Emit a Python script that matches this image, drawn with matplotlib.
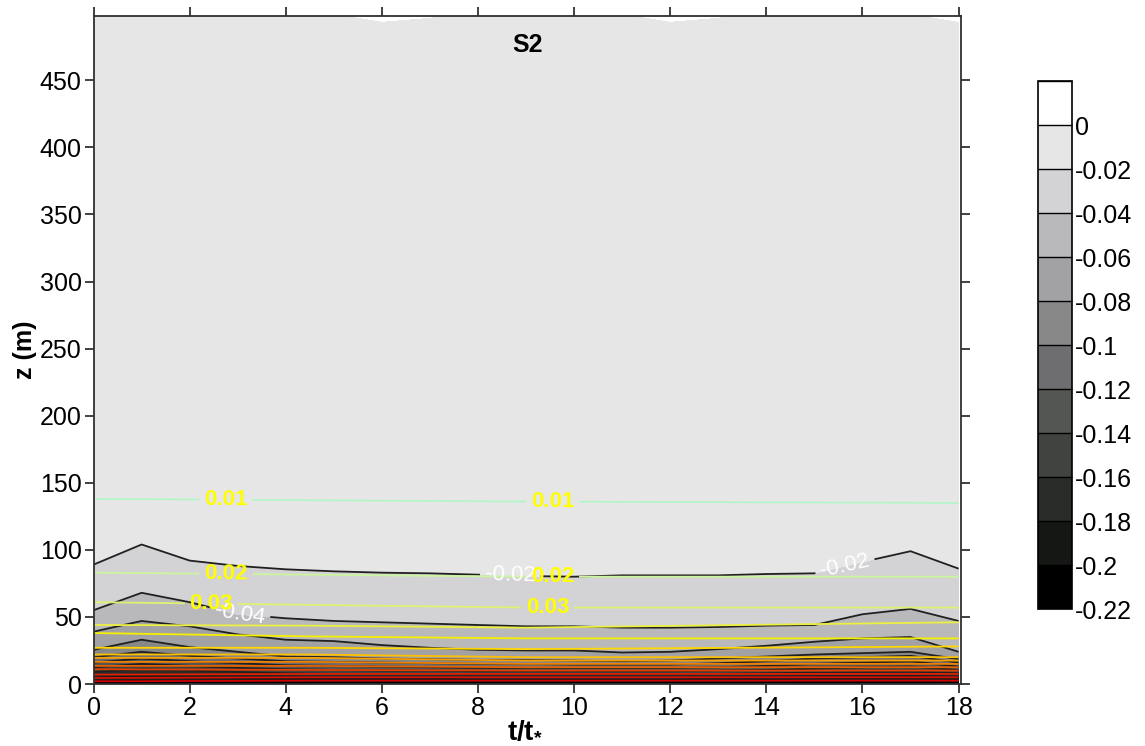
import numpy as np
import matplotlib
matplotlib.use("Agg")
import matplotlib.pyplot as plt

plt.rcParams['font.family'] = ['Liberation Sans', 'DejaVu Sans']
plt.rcParams['mathtext.fontset'] = 'custom'
plt.rcParams['mathtext.rm'] = 'Liberation Sans'
plt.rcParams['mathtext.bf'] = 'Liberation Sans:bold'
plt.rcParams['contour.negative_linestyle'] = 'solid'

t = [0, 1, 2, 3, 4, 5, 6, 7, 8, 9, 10, 11, 12, 13, 14, 15, 16, 17, 18]

# height (m) of each grey (S2) contour level
z_m020 = [3, 3.5, 3, 3, 2.5, 2.5, 2.5, 2.5, 2.5, 2.5, 2.5, 2.5, 2.5, 2.5, 2.5, 3, 3, 3, 2.5]
z_m018 = [6, 7, 6.5, 6, 5.5, 5, 5, 5, 4.5, 4.5, 4.5, 4.5, 4.5, 5, 5.5, 6, 6, 6.5, 5.5]
z_m016 = [9, 11, 10, 9, 8, 7.5, 7.5, 7.5, 7, 7, 7, 7, 7, 7.5, 8, 8.5, 9, 9.5, 8]
z_m014 = [12.5, 15, 13.5, 12, 11, 10.5, 10, 10, 9.5, 9.5, 9.5, 9.5, 9.5, 10, 10.5, 11.5, 12.5, 13, 10.5]
z_m012 = [16, 19, 17, 15.5, 14, 13.5, 13, 12.5, 12, 12, 12, 12, 12, 12.5, 13.5, 15, 16, 17, 13]
z_m010 = [20, 24, 21, 19, 17, 16.5, 16, 15.5, 15, 15, 14.5, 14.5, 14.5, 15.5, 17, 19, 20, 21, 16]
z_m008 = [25.5, 33, 27.5, 24, 20.5, 20, 19, 18.5, 18, 18, 17.5, 17, 17.5, 19, 20.5, 22, 23, 24, 18.5]
z_m006 = [39, 47, 43, 37, 33, 32, 29, 27, 25.5, 25, 25, 23.5, 24, 26, 28.5, 31.5, 34, 35, 24]
z_m004 = [55, 68, 61, 52, 49, 47, 46, 45, 44, 43, 43, 42, 42, 42.5, 43.5, 44, 52, 56, 47]
z_m002 = [89, 104, 92, 88, 85.5, 84, 83, 82.5, 81.5, 80.5, 80, 81, 81, 81, 82, 82.5, 91, 99, 86]
z_zero = [505, 505, 505, 505, 505, 500, 494, 497, 505, 505, 505, 500, 494, 497, 505, 505, 505, 500, 494]

gray_levels = [-0.22, -0.20, -0.18, -0.16, -0.14, -0.12, -0.10, -0.08, -0.06, -0.04, -0.02, 0.0, 0.02]
gray_colors = ['#000000', '#141714', '#2a2c2a', '#414340', '#535652', '#6e6d70',
               '#898889', '#a2a1a3', '#b9b8bb', '#d3d2d5', '#e6e6e6', '#ffffff']
cbar_labels = ['-0.22', '-0.2', '-0.18', '-0.16', '-0.14', '-0.12', '-0.1',
               '-0.08', '-0.06', '-0.04', '-0.02', '0']

# coloured contour heights (m), read at these t/t*
tc = [0, 4.5, 9, 13.5, 18]
c001 = [138, 137, 136, 135.5, 135]
c002 = [83, 81.5, 80, 80, 80]
c003 = [61, 59, 57, 57, 57]
c004 = [44, 43.5, 42, 44, 46]
c005 = [38, 35.5, 34, 34, 34]
c006 = [27, 27, 26, 27, 28]
c007 = [22, 22, 20, 20, 20]
c008 = [19.5, 19.5, 17.5, 17.5, 17.5]
c009 = [16.5, 16.5, 15, 15, 15]
c010 = [13.5, 13.5, 12.5, 12.5, 12.5]
c011 = [11, 10.5, 10, 10, 10]
c012 = [7, 7.5, 7.5, 7.5, 7.5]
c013 = [4.5, 5, 5, 5, 5]
c014 = [2, 2.5, 2.5, 2.5, 2.5]
c_levels = [0.01, 0.02, 0.03, 0.04, 0.05, 0.06, 0.07, 0.08, 0.09, 0.10, 0.11, 0.12, 0.13, 0.14]
c_colors = ['#b4f5c8', '#ccf5a0', '#e0f070', '#ecf040', '#f5f000', '#ffd800', '#ffc000',
            '#f8a000', '#f08000', '#e86000', '#e04000', '#e02000', '#d81000', '#d00000']

# grey field on a curvilinear grid: one row per contour level
g_rows = [[0] * len(t), z_m020, z_m018, z_m016, z_m014, z_m012, z_m010, z_m008,
          z_m006, z_m004, z_m002, z_zero, [520] * len(t)]
g_vals = gray_levels[:-1] + [0.01]
GX = np.tile(np.array(t, float), (len(g_rows), 1))
GY = np.array(g_rows, float)
GZ = np.repeat(np.array(g_vals)[:, None], len(t), axis=1)

c_rows = [[0] * len(tc), c014, c013, c012, c011, c010, c009, c008, c007, c006,
          c005, c004, c003, c002, c001, [520] * len(tc)]
c_vals = [0.15] + c_levels[::-1] + [0.0]
CX = np.tile(np.array(tc, float), (len(c_rows), 1))
CY = np.array(c_rows, float)
CZ = np.repeat(np.array(c_vals)[:, None], len(tc), axis=1)

fig = plt.figure(figsize=(11.45, 7.46), dpi=100)
ax = fig.add_axes([0.0817, 0.0831, 0.7576, 0.8955])

cf = ax.contourf(GX, GY, GZ, levels=gray_levels, colors=gray_colors)
cs_k = ax.contour(GX, GY, GZ, levels=gray_levels[1:11], colors='#202020',
                  linewidths=1.3, linestyles='solid')
cs_c = ax.contour(CX, CY, CZ, levels=c_levels, colors=c_colors, linewidths=1.3)

lab_k = ax.clabel(cs_k, fmt='%g', colors='white', fontsize=16,
                  inline=True, manual=[(8.67, 80.6), (15.64, 87), (3.05, 52)])
lab_c = ax.clabel(cs_c, fmt='%g', colors='yellow', fontsize=16,
                  inline=True, manual=[(2.75, 137), (9.55, 135.5), (2.75, 82),
                                       (9.55, 79.5), (2.45, 60.5), (9.45, 57)])
for l in lab_c:
    l.set_fontweight('bold')

ax.set_xlim(0, 18.05)
ax.set_ylim(0, 498)
ax.set_xticks(range(0, 19, 2))
ax.set_yticks(range(0, 451, 50))
ax.tick_params(direction='out', top=True, right=True, length=6.5, width=1.2,
               labelsize=18, pad=2, colors='#202020', labelcolor='black')
for s in ax.spines.values():
    s.set_linewidth(1.3)
    s.set_color('#303030')

ax.text(0.5, 0.956, 'S2', transform=ax.transAxes, ha='center', va='center',
        fontsize=18, fontweight='bold')
fig.text(0.4585, 0.022, r't/t$_\mathbf{*}$', ha='center', va='center',
         fontsize=20, fontweight='bold')
fig.text(0.022, 0.531, 'z (m)', ha='center', va='center', rotation=90,
         fontsize=18, fontweight='bold')

cax = fig.add_axes([0.9066, 0.1836, 0.0297, 0.7078])
cb = fig.colorbar(cf, cax=cax, ticks=gray_levels[:-1], drawedges=True)
cb.ax.set_yticklabels(cbar_labels)
cb.ax.tick_params(length=0, labelsize=18, pad=2)
cb.outline.set_linewidth(1.2)
cb.dividers.set_linewidth(1.0)

fig.savefig('out.png', dpi=100)
